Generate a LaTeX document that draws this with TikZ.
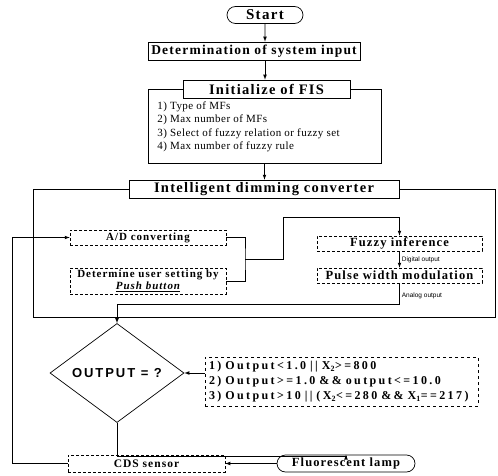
\documentclass[tikz,border=0pt]{standalone}
\usepackage{fontspec}
\setmainfont{Liberation Serif}
\newfontfamily\fchead[LetterSpace=9]{Liberation Serif}
\newfontfamily\fclist[LetterSpace=4]{Liberation Serif}
\newfontfamily\fccond[LetterSpace=20]{Liberation Serif}
\newfontfamily\fcsans[LetterSpace=15]{Liberation Sans}
\newfontfamily\fcnote{Liberation Sans}
\usepackage{tikz}
\usetikzlibrary{shapes.geometric,shapes.misc,calc,positioning}

\tikzset{
  fc schemes/.style = {
    x = 1pt, y = -1pt,
    line width = 0.7pt,
    % Заголовки
    head/.style = {
      draw, fill=white, inner sep=1pt,
      minimum height=18pt,
      font=\fchead\bfseries\fontsize{14.5}{14}\selectfont
    },
    term/.style = { head, rounded rectangle, minimum height=17pt},
    % Ячейки
    sn/.style  = {
      draw, densely dashed, inner sep=1pt,
      minimum height=15pt,
      font=\fchead\bfseries\fontsize{11}{12}\selectfont
    },
    dsn/.style = { sn, font=\fchead\bfseries\fontsize{12.5}{13}\selectfont},
    frame/.style = { draw, inner sep=0pt},
    list/.style  = { anchor=north west, align=left, inner sep=0pt,
      font=\fclist\fontsize{11}{13.5}\selectfont},
    cond/.style  = { draw, dashed, text width=265pt, inner sep=4pt,
      minimum height=49pt, align=left,
      font=\fccond\bfseries\fontsize{12}{15}\selectfont},
    test/.style  = { draw, diamond, inner sep=0pt,
      minimum width=134pt, minimum height=70pt,
      font=\fcsans\bfseries\fontsize{13}{13}\selectfont},
    note/.style  = { inner sep=2pt, font=\fcnote\fontsize{6.5}{7}\selectfont},
    % Линии, стрелки
    connect line/.style = {-latex},
  }
}

\begin{document}
\begin{tikzpicture}[fc schemes]
\useasboundingbox (0,0) rectangle (498,476);

% рамки
\node[frame, minimum width=233, minimum height=74] (fisframe) at (264.5,126) {};
\node[frame, minimum width=462, minimum height=128] (idcframe) at (264,253) {};

\node[term, minimum width=78, font=\fchead\bfseries\fontsize{15}{15}\selectfont]
  (start) at (265,15) {Start};
\node[head, minimum width=212, font=\fchead\bfseries\fontsize{13.5}{13}\selectfont]
  (input) at (254,51) {Determination of system input};
\node[head, minimum width=167] (fis) at (266.5,89) {Initialize of FIS};
\node[list] (mfs) at (157,101) {1) Type of MFs\\ 2) Max number of MFs\\
  3) Select of fuzzy relation or fuzzy set\\ 4) Max number of fuzzy rule};
\node[head, minimum width=270] (idc) at (264,189) {Intelligent dimming converter};

\node[sn, minimum width=156] (ad) at (148,237.5) {A/D converting};
\node[sn, minimum width=156, minimum height=26, align=center] (user) at (148,281)
  {Determine user setting by\\ \underline{\itshape Push button}};
\node[dsn, minimum width=165] (fuzzy) at (399.5,243.5) {Fuzzy inference};
\node[dsn, minimum width=165] (pwm) at (399.5,275.5) {Pulse width modulation};
\coordinate (join) at (245,259);

\node[test] (test) at (117,373) {OUTPUT = ?};
\node[cond] (cond) at (341.5,381.5) {1) Output<1.0 || X\textsubscript{2}>=800\\
  2) Output>=1.0 \&\& output<=10.0\\
  3) Output>10 || (X\textsubscript{2}<=280 \&\& X\textsubscript{1}==217)};

\node[term, minimum width=140, font=\fchead\bfseries\fontsize{12.5}{13}\selectfont]
  (lamp) at (346,463.5) {Fluorescent lamp};
\node[sn, minimum width=157, minimum height=17, font=\fchead\bfseries\fontsize{11.5}{12}\selectfont]
  (cds) at (146.5,463.5) {CDS sensor};

\draw[connect line] (start) -- (start |- input.north);
\draw[connect line] (start |- input.south) -- (start |- fis.north);
\draw[connect line] (fisframe.south) -- (fisframe.south |- idc.north);

\draw (ad.east) -| (join) |- (user.east);
\draw[connect line] (join) -- ++(38,0) |- ($(fuzzy.north)+(0,-18)$) -- (fuzzy.north);
\draw[connect line] (fuzzy) -- node[note, right] {Digital output} (pwm);
\draw[connect line] (pwm.south) -- node[note, right, pos=0.6] {Analog output}
  ++(0,21) -| (test.north);

\draw[connect line] (test.east -| cond.west) -- (test.east);
\draw[connect line] (test.south) -- ++(0,33) -| (lamp.north);
\draw[connect line] (lamp) -- (cds);
\draw[connect line] (cds.west) -- ++(-55,0) |- (ad.west);

\end{tikzpicture}
\end{document}
